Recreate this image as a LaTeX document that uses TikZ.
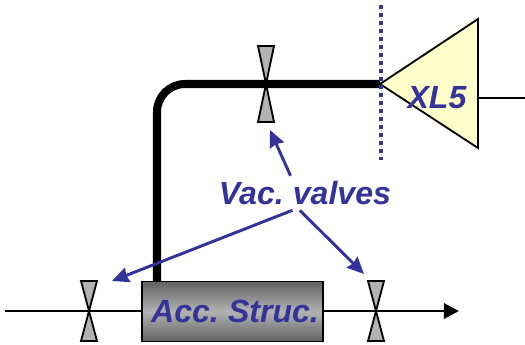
\documentclass[tikz,border=0pt]{standalone}
\usepackage{fontspec}
\setmainfont[WordSpace=.7]{Liberation Sans}
\usetikzlibrary{arrows.meta}
\definecolor{vacblue}{HTML}{333399}
\definecolor{ampyellow}{HTML}{FFFFCC}
\definecolor{valvegray}{HTML}{B2B2B2}
\tikzset{
    beam/.style={draw=black,line width=2.1pt},
    pipe/.style={draw=black,line width=5.7pt,rounded corners=.7cm},
    valve/.style={draw=black,fill=valvegray,line width=1.3pt,line join=miter},
    pointer/.style={draw=vacblue,line width=2.1pt,-{Stealth[length=.42cm,width=.38cm,inset=.04cm]}},
    bluetext/.style={text=vacblue,font=\fontsize{22.8}{24}\selectfont\bfseries\itshape,inner sep=0pt}
}
\begin{document}
\begin{tikzpicture}[x=.025cm,y=-.025cm]
            \useasboundingbox (0,0) rectangle (525,344);

            \coordinate (beamin) at (5,311);
            \coordinate (beamout) at (459,311);
            \coordinate (vleft) at (89,311);
            \coordinate (vright) at (376,311);
            \coordinate (vtop) at (266,84);
            \coordinate (tipleft) at (112,281);
            \coordinate (tipright) at (364,274);
            \coordinate (tiptop) at (270,130);
            \coordinate (rf) at (525,98);
            \coordinate (dottop) at (381,5);
            \coordinate (dotbot) at (381,160);

            \draw[beam,-{Triangle[length=.38cm,width=.38cm]}] (beamin) -- (beamout);
            \path[pipe] (157,281) -- (157,84) -- (380,84);
            \node[draw=black,line width=1.3pt,minimum width=4.53cm,minimum height=1.5cm,inner sep=0pt,
                top color=black!62,bottom color=black!62,middle color=black!30] (struc) at (232.5,311.5) {};

            % valves
            \foreach \v/\h in {vleft/30,vright/30,vtop/38}
                \draw[valve] (\v) ++(-8,-\h) -- ++(16,0) -- ++(-16,2*\h) -- ++(16,0) -- cycle;

            \draw[beam] (478,98) -- (rf);
            \draw[draw=black,fill=ampyellow,line width=1.3pt] (380,84) -- (478,19) -- (478,148) -- cycle;
            \draw[draw=vacblue,line width=.1cm,dash pattern=on .1cm off .1cm] (dottop) -- (dotbot);

            \node[bluetext] (amp) at (437,98) {XL5};
            \node[bluetext] (struclabel) at (235,311.5) {Acc. Struc.};
            \node[bluetext,minimum height=.85cm] (vac) at (305,193) {Vac. valves};

            \draw[pointer] (vac.130) -- (tiptop);
            \draw[pointer] (vac.234) -- (tipleft);
            \draw[pointer] (vac.253) -- (tipright);
        \end{tikzpicture}
\end{document}
